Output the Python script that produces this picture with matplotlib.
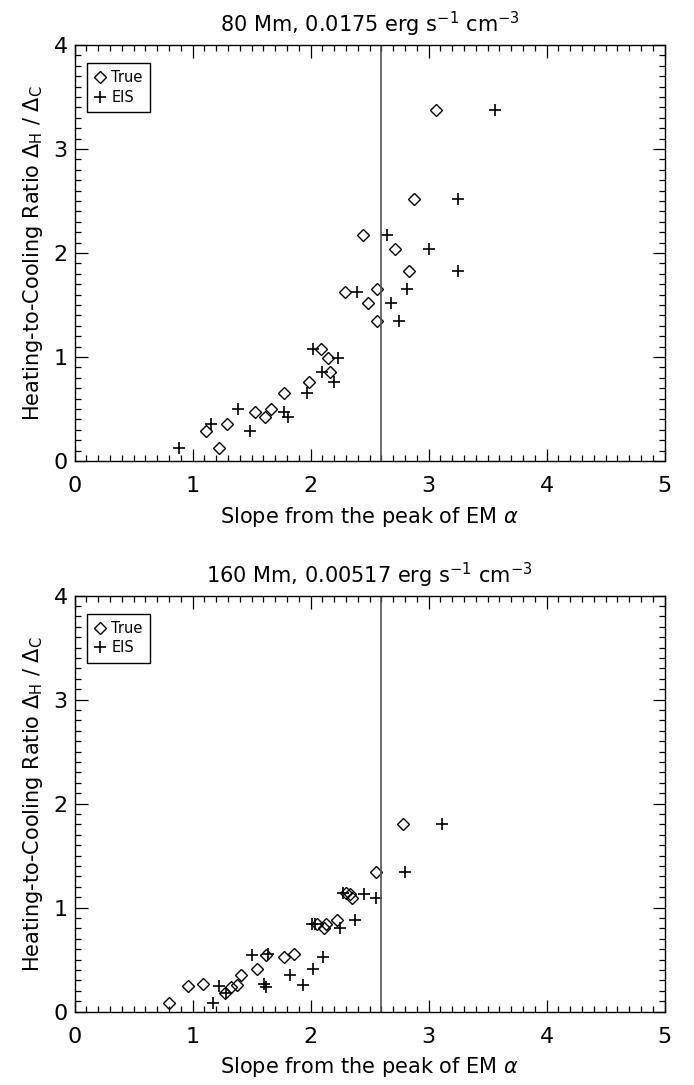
import matplotlib.pyplot as plt
from matplotlib.ticker import MultipleLocator

# Top panel: 80 Mm loop
ratio_80 = [3.375, 2.519, 2.17, 2.035, 1.827, 1.651, 1.628, 1.516, 1.346, 1.077,
            0.987, 0.856, 0.763, 0.657, 0.50, 0.468, 0.426, 0.356, 0.288, 0.122]
true_80 = [3.06, 2.875, 2.44, 2.715, 2.835, 2.565, 2.295, 2.485, 2.565, 2.09,
           2.15, 2.16, 1.99, 1.77, 1.66, 1.53, 1.61, 1.29, 1.115, 1.225]
eis_80 = [3.56, 3.25, 2.645, 3.0, 3.25, 2.815, 2.395, 2.68, 2.745, 2.02,
          2.235, 2.095, 2.2, 1.965, 1.38, 1.77, 1.81, 1.155, 1.49, 0.885]

# Bottom panel: 160 Mm loop
ratio_160 = [1.805, 1.343, 1.144, 1.13, 1.09, 0.88, 0.846, 0.843, 0.807, 0.523,
             0.55, 0.542, 0.413, 0.355, 0.257, 0.24, 0.265, 0.25, 0.177, 0.087]
true_160 = [2.785, 2.553, 2.30, 2.333, 2.347, 2.22, 2.056, 2.127, 2.115, 1.776,
            1.858, 1.621, 1.548, 1.407, 1.373, 1.322, 1.09, 0.963, 1.27, 0.80]
eis_160 = [3.11, 2.80, 2.27, 2.454, 2.551, 2.373, 2.014, 2.04, 2.248, 2.107,
           1.641, 1.50, 2.017, 1.825, 1.932, 1.621, 1.607, 1.225, 1.28, 1.175]

panels = [
    (r"80 Mm, 0.0175 erg s$^{-1}$ cm$^{-3}$", true_80, eis_80, ratio_80),
    (r"160 Mm, 0.00517 erg s$^{-1}$ cm$^{-3}$", true_160, eis_160, ratio_160),
]

alpha_cut = 2.6

plt.rcParams["font.family"] = "DejaVu Sans"
plt.rcParams["mathtext.fontset"] = "dejavusans"

fig = plt.figure(figsize=(6.94, 10.85), dpi=100)
ax_rects = [
    [0.1076, 0.5751, 0.8501, 0.3834],
    [0.1076, 0.0676, 0.8501, 0.3834],
]

for rect, (title, x_true, x_eis, ratio) in zip(ax_rects, panels):
    ax = fig.add_axes(rect)

    ax.plot(x_true, ratio, linestyle="none", marker="D", markersize=6.5,
            markerfacecolor="none", markeredgecolor="black", markeredgewidth=1.0,
            label="True")
    ax.plot(x_eis, ratio, linestyle="none", marker="+", markersize=9,
            color="black", markeredgewidth=1.2, label="EIS")

    ax.axvline(alpha_cut, color="#555555", linewidth=1.2)

    ax.set_xlim(0, 5)
    ax.set_ylim(0, 4)
    ax.xaxis.set_major_locator(MultipleLocator(1))
    ax.xaxis.set_minor_locator(MultipleLocator(0.1))
    ax.yaxis.set_major_locator(MultipleLocator(1))
    ax.yaxis.set_minor_locator(MultipleLocator(0.1))
    ax.tick_params(which="both", direction="in", top=True, right=True,
                   width=0.9, labelsize=16)
    ax.tick_params(which="major", length=9)
    ax.tick_params(which="minor", length=4.5)
    ax.tick_params(axis="x", which="major", pad=11)
    ax.tick_params(axis="y", which="major", pad=5)
    for spine in ax.spines.values():
        spine.set_linewidth(1.0)

    ax.set_title(title, fontsize=15, pad=9)
    ax.set_xlabel(r"Slope from the peak of EM $\alpha$", fontsize=15, labelpad=6)
    ax.set_ylabel(r"Heating-to-Cooling Ratio $\Delta_{\rm H}$ / $\Delta_{\rm C}$",
                  fontsize=15, labelpad=6)

    leg = ax.legend(loc="upper left", bbox_to_anchor=(12 / 590, 1 - 18 / 416),
                    borderaxespad=0, fontsize=10.5, handlelength=0.8,
                    handletextpad=0.4, borderpad=0.5, labelspacing=0.3,
                    fancybox=False, framealpha=1, edgecolor="black")
    leg.get_frame().set_linewidth(1.0)

plt.savefig("out.png", dpi=100, facecolor="white")
